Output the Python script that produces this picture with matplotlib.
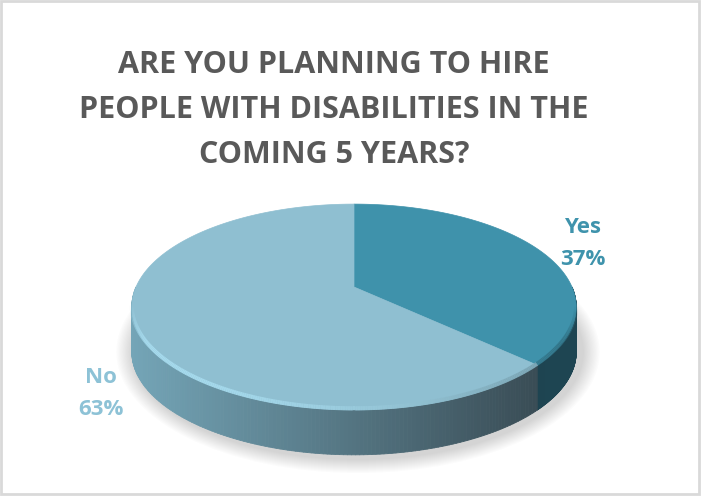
import numpy as np
import matplotlib.pyplot as plt
from matplotlib.collections import PolyCollection, LineCollection
from matplotlib.patches import Polygon, Ellipse, Rectangle
from matplotlib.colors import to_rgb

title_lines = ["ARE YOU PLANNING TO HIRE", "PEOPLE WITH DISABILITIES IN THE", "COMING 5 YEARS?"]
labels = ["Yes", "No"]
values = [37, 63]
top_colors = ["#3F92AB", "#8FBFD1"]
side_colors = [("#1B3E4B", "#1E4552"), ("#74A5B7", "#394C55")]
label_colors = ["#3F93AC", "#8DC2D6"]

W, H = 701, 496
fig = plt.figure(figsize=(W / 100, H / 100), dpi=100)
ax = fig.add_axes([0, 0, 1, 1])
ax.set_xlim(0, W)
ax.set_ylim(H, 0)
ax.axis("off")

# pie geometry in pixels, with a little perspective (k)
cx, cy = 354, 287
a, b, k = 218, 99, 0.194
depth = 45


def project(t):
    # t is measured clockwise from 12 o'clock
    u, w = np.sin(t), np.cos(t)
    s = 1 + k * w
    return cx + a * u / s, cy - b * w / s


def mix(c1, c2, f):
    c1, c2 = np.array(to_rgb(c1)), np.array(to_rgb(c2))
    return tuple(c1 + (c2 - c1) * np.clip(f, 0, 1))


fracs = np.array(values) / sum(values)
bounds = np.concatenate([[0], np.cumsum(fracs)]) * 2 * np.pi

# soft shadow under the pie
for i in range(14):
    ax.add_patch(Ellipse((358, 352), 2 * (226 + i * 1.2), 2 * (108 + i * 1.0),
                         facecolor="#7f7f7f", edgecolor="none", alpha=0.025, zorder=1))

# side wall, only the part facing the viewer
xl, xr = cx - a * 1.02, cx + a * 1.02
for i in range(len(values)):
    t0, t1 = max(bounds[i], np.pi / 2), min(bounds[i + 1], 3 * np.pi / 2)
    if t1 <= t0:
        continue
    ts = np.linspace(t0, t1, 160)
    xs, ys = project(ts)
    quads, cols = [], []
    for j in range(len(ts) - 1):
        quads.append([(xs[j], ys[j]), (xs[j + 1], ys[j + 1]),
                      (xs[j + 1], ys[j + 1] + depth), (xs[j], ys[j] + depth)])
        f = (xs[j] - xl) / (xr - xl)
        if i == 1:
            f = (xs[j] - xl) / (540 - xl)
        cols.append(mix(side_colors[i][0], side_colors[i][1], f))
    ax.add_collection(PolyCollection(quads, facecolors=cols, edgecolors=cols,
                                     linewidths=0.6, zorder=2))

# top faces
for i in range(len(values)):
    ts = np.linspace(bounds[i], bounds[i + 1], 200)
    xs, ys = project(ts)
    pts = np.column_stack([np.r_[cx, xs], np.r_[cy, ys]])
    ax.add_patch(Polygon(pts, closed=True, facecolor=top_colors[i],
                         edgecolor=top_colors[i], linewidth=0.5, zorder=3))

# bevel highlight along the front rim, fading out at the silhouette
t_sil = np.arccos(-k)
ts = np.linspace(t_sil, 2 * np.pi - t_sil, 300)
xs, ys = project(ts)
segs, rim = [], []
for j in range(len(ts) - 1):
    segs.append([(xs[j], ys[j] - 1.5), (xs[j + 1], ys[j + 1] - 1.5)])
    f = (xs[j] - xl) / (xr - xl)
    if ts[j] > bounds[1]:
        c = mix("#A9DEF1", "#6E95A3", f ** 2)
    else:
        c = mix("#4FA3BC", "#2F6F82", f ** 2)
    edge = min(ts[j] - t_sil, 2 * np.pi - t_sil - ts[j]) / 0.35
    rim.append((*c, 0.9 * min(edge, 1)))
ax.add_collection(LineCollection(segs, colors=rim, linewidths=3, zorder=4))

# title
for n, line in enumerate(title_lines):
    ax.text(334, 73 + n * 45, line, ha="center", va="baseline", fontsize=22,
            fontweight="bold", color="#595959", family="Open Sans", zorder=5)

# data labels (name over percentage)
label_pos = [(583, 233), (101, 383)]
for lab, v, col, (x, y) in zip(labels, values, label_colors, label_pos):
    ax.text(x, y, lab, ha="center", va="baseline", fontsize=16,
            fontweight="bold", color=col, family="Open Sans", zorder=5)
    ax.text(x, y + 32, f"{v}%", ha="center", va="baseline", fontsize=16,
            fontweight="bold", color=col, family="Open Sans", zorder=5)

ax.add_patch(Rectangle((1, 1), W - 3, H - 3, fill=False, edgecolor="#D9D9D9",
                       linewidth=2, zorder=6))

fig.savefig("out.png", dpi=100)
